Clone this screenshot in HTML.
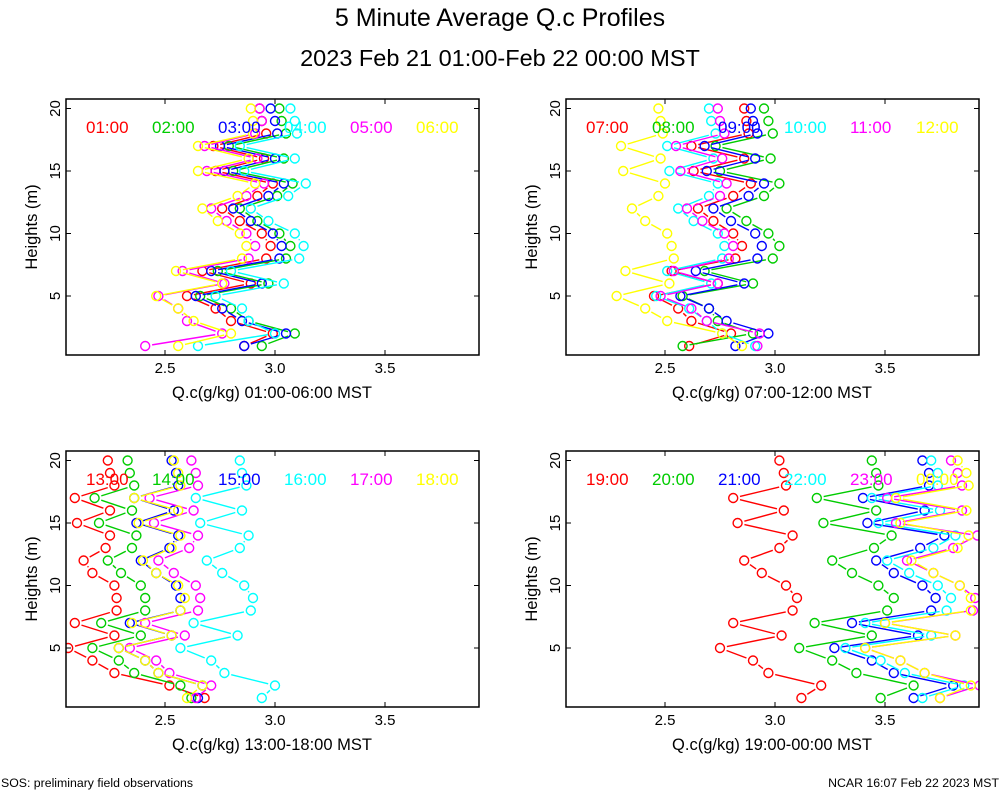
<!DOCTYPE html>
<html><head><meta charset="utf-8"><style>
body{margin:0;background:#fff;}
svg{display:block;font-family:"Liberation Sans",sans-serif;}
</style></head><body>
<svg id="chart" width="1000" height="800" viewBox="0 0 1000 800" xmlns="http://www.w3.org/2000/svg">
<text x="500" y="26" font-size="25" text-anchor="middle">5 Minute Average Q.c Profiles</text>
<text x="500" y="66" font-size="23.5" text-anchor="middle">2023 Feb 21 01:00-Feb 22 00:00 MST</text>
<text x="1" y="787" font-size="12.3">SOS: preliminary field observations</text>
<text x="999" y="787" font-size="12.3" text-anchor="end">NCAR 16:07 Feb 22 2023 MST</text>
</svg>
<script>
const heights = [20,19,18,17,16,15,14,13,12,11,10,9,8,7,6,5,4,3,2,1];
const colors = ["#ff0000","#00cc00","#0000ff","#00ffff","#ff00ff","#ffff00"];
const xTicks = [2.5,3.0,3.5];
const xTickLabels = ["2.5","3.0","3.5"];
const yTicks = [5,10,15,20];
const yTickLabels = ["5","10","15","20"];
const panelLabels = [["01:00","02:00","03:00","04:00","05:00","06:00"],["07:00","08:00","09:00","10:00","11:00","12:00"],["13:00","14:00","15:00","16:00","17:00","18:00"],["19:00","20:00","21:00","22:00","23:00","00:00"]];
const panelTitles = ["Q.c(g/kg) 01:00-06:00 MST","Q.c(g/kg) 07:00-12:00 MST","Q.c(g/kg) 13:00-18:00 MST","Q.c(g/kg) 19:00-00:00 MST"];
const p1s1=[2.93,2.94,2.96,2.72,2.95,2.73,2.99,2.92,2.76,2.84,2.94,2.98,2.96,2.67,2.89,2.60,2.73,2.80,2.99,2.86];
const p1s2=[3.02,3.03,3.05,2.79,3.04,2.81,3.08,3.01,2.84,2.92,3.02,3.07,3.05,2.74,2.97,2.66,2.80,2.88,3.09,2.94];
const p1s3=[2.98,3.00,3.01,2.75,3.00,2.77,3.04,2.97,2.81,2.89,2.99,3.03,3.02,2.71,2.94,2.64,2.76,2.85,3.05,2.86];
const p1s4=[3.07,3.09,3.10,2.84,3.09,2.86,3.14,3.06,2.89,2.97,3.09,3.13,3.11,2.80,3.04,2.73,2.85,2.88,3.00,2.65];
const p1s5=[2.93,2.94,2.91,2.68,2.92,2.69,2.95,2.87,2.71,2.78,2.87,2.91,2.88,2.58,2.77,2.47,2.56,2.60,2.76,2.41];
const p1s6=[2.89,2.90,2.90,2.65,2.88,2.65,2.91,2.83,2.67,2.74,2.84,2.87,2.85,2.55,2.76,2.46,2.56,2.63,2.80,2.56];
const p2s1=[2.86,2.87,2.88,2.62,2.86,2.63,2.89,2.81,2.65,2.72,2.81,2.85,2.82,2.53,2.74,2.45,2.56,2.62,2.80,2.61];
const p2s2=[2.95,2.97,2.99,2.73,2.98,2.75,3.02,2.95,2.78,2.87,2.97,3.02,2.99,2.68,2.90,2.58,2.70,2.74,2.90,2.58];
const p2s3=[2.89,2.90,2.92,2.68,2.91,2.69,2.95,2.88,2.72,2.80,2.91,2.94,2.92,2.64,2.86,2.57,2.70,2.78,2.97,2.82];
const p2s4=[2.70,2.71,2.73,2.51,2.72,2.52,2.74,2.70,2.56,2.63,2.74,2.77,2.76,2.51,2.71,2.46,2.61,2.69,2.76,2.91];
const p2s5=[2.74,2.75,2.77,2.55,2.76,2.57,2.78,2.75,2.60,2.67,2.77,2.81,2.79,2.54,2.74,2.48,2.62,2.69,2.93,2.92];
const p2s6=[2.47,2.48,2.49,2.30,2.48,2.31,2.50,2.47,2.35,2.41,2.51,2.53,2.54,2.32,2.52,2.28,2.41,2.51,2.76,2.85];
const p3s1=[2.24,2.25,2.27,2.09,2.25,2.10,2.25,2.23,2.13,2.17,2.27,2.28,2.28,2.09,2.27,2.06,2.17,2.27,2.52,2.68];
const p3s2=[2.33,2.34,2.36,2.18,2.35,2.20,2.37,2.35,2.24,2.30,2.39,2.41,2.41,2.21,2.39,2.17,2.29,2.36,2.57,2.62];
const p3s3=[2.53,2.55,2.56,2.36,2.54,2.37,2.56,2.52,2.39,2.46,2.55,2.57,2.57,2.34,2.53,2.29,2.41,2.47,2.67,2.65];
const p3s4=[2.84,2.85,2.87,2.64,2.85,2.66,2.88,2.84,2.69,2.76,2.86,2.90,2.89,2.63,2.83,2.57,2.71,2.77,3.00,2.94];
const p3s5=[2.62,2.64,2.65,2.43,2.63,2.45,2.65,2.61,2.47,2.54,2.64,2.66,2.65,2.41,2.59,2.34,2.46,2.52,2.71,2.64];
const p3s6=[2.54,2.56,2.57,2.36,2.56,2.38,2.57,2.53,2.40,2.46,2.56,2.59,2.57,2.35,2.53,2.29,2.41,2.47,2.67,2.60];
const p4s1=[3.02,3.04,3.05,2.81,3.04,2.83,3.08,3.02,2.86,2.94,3.05,3.10,3.08,2.81,3.03,2.75,2.90,2.97,3.21,3.12];
const p4s2=[3.44,3.46,3.47,3.19,3.46,3.22,3.53,3.45,3.26,3.35,3.47,3.54,3.51,3.18,3.44,3.11,3.26,3.37,3.63,3.48];
const p4s3=[3.67,3.70,3.70,3.40,3.68,3.42,3.77,3.66,3.46,3.54,3.67,3.73,3.71,3.35,3.65,3.27,3.44,3.54,3.81,3.63];
const p4s4=[3.71,3.74,3.74,3.44,3.75,3.47,3.82,3.72,3.51,3.61,3.74,3.80,3.78,3.41,3.71,3.32,3.48,3.59,3.86,3.67];
const p4s5=[3.80,3.83,3.85,3.51,3.85,3.55,3.92,3.81,3.60,3.72,3.84,3.91,3.90,3.50,3.82,3.41,3.57,3.68,3.93,3.75];
const p4s6=[3.83,3.87,3.88,3.55,3.87,3.57,3.88,3.83,3.62,3.72,3.84,3.89,3.89,3.50,3.82,3.41,3.57,3.68,3.89,3.75];
const panelSeries=[[p1s1,p1s2,p1s3,p1s4,p1s5,p1s6],[p2s1,p2s2,p2s3,p2s4,p2s5,p2s6],[p3s1,p3s2,p3s3,p3s4,p3s5,p3s6],[p4s1,p4s2,p4s3,p4s4,p4s5,p4s6]];

const NS="http://www.w3.org/2000/svg";
const svg=document.getElementById('chart');
const W=413,H=256,XMIN=2.05,XMAX=2.05+413/220,YMIN=0.28,YMAX=0.28+256/12.5;
const origins=[[66,99],[566,99],[66,451],[566,451]];
function mk(tag,attrs,parent){const e=document.createElementNS(NS,tag);for(const k in attrs)e.setAttribute(k,attrs[k]);(parent||svg).appendChild(e);return e;}
panelSeries.forEach((series,pi)=>{
  const [L,T]=origins[pi];
  const xs=v=>L+(v-XMIN)/(XMAX-XMIN)*W;
  const ys=h=>T+H-(h-YMIN)/(YMAX-YMIN)*H;
  const g=mk('g',{});
  
  
  const clipId='clip'+pi;
  const cp=mk('clipPath',{id:clipId},g);
  mk('rect',{x:L,y:T,width:W,height:H},cp);
  const plot=mk('g',{'clip-path':'url(#'+clipId+')'},g);
  
  
  series.forEach((vals,si)=>{
    const sg=mk('g',{stroke:colors[si],fill:'none','stroke-width':1.4},plot);
    
    
    for(let i=0;i<vals.length-1;i++){
      const x1=xs(vals[i]),y1=ys(heights[i]),x2=xs(vals[i+1]),y2=ys(heights[i+1]);
      const dx=x2-x1,dy=y2-y1,d=Math.hypot(dx,dy),g2=7;
      if(d>2*g2){
        const ln=mk('line',{x1:x1+dx/d*g2,y1:y1+dy/d*g2,x2:x2-dx/d*g2,y2:y2-dy/d*g2},sg);
        
        
      }
    }
    vals.forEach((v,i)=>{
      const c=mk('circle',{cx:xs(v),cy:ys(heights[i]),r:4.5},sg);
      
      
    });
  });
  panelLabels[pi].forEach((lab,si)=>{
    const t=mk('text',{x:L+20+si*66,y:T+34,'font-size':17,fill:colors[si]},g);
    t.textContent=lab;
    
    
  });
  const fr=mk('rect',{x:L,y:T,width:W,height:H,fill:'none',stroke:'#000','stroke-width':1.5},g);
  
  
  xTicks.forEach((v,i)=>{
    const x=xs(v);
    mk('line',{x1:x,x2:x,y1:T,y2:T+5,stroke:'#000'},g);
    mk('line',{x1:x,x2:x,y1:T+H,y2:T+H-5,stroke:'#000'},g);
    const t=mk('text',{x:x,y:T+H+18,'font-size':15,'text-anchor':'middle'},g);
    t.textContent=xTickLabels[i];
    
    
  });
  yTicks.forEach((h,i)=>{
    const y=ys(h);
    mk('line',{x1:L,x2:L+5,y1:y,y2:y,stroke:'#000'},g);
    mk('line',{x1:L+W,x2:L+W-5,y1:y,y2:y,stroke:'#000'},g);
    const t=mk('text',{x:0,y:0,'font-size':15,'text-anchor':'middle',transform:`translate(${L-6},${y}) rotate(-90)`},g);
    t.textContent=yTickLabels[i];
    
    
  });
  const xt=mk('text',{x:L+206,y:T+H+43,'font-size':16.5,'text-anchor':'middle'},g);
  xt.textContent=panelTitles[pi];
  
  
  const yt=mk('text',{x:0,y:0,'font-size':16.5,'text-anchor':'middle',transform:`translate(${L-29},${T+H/2}) rotate(-90)`},g);
  yt.textContent='Heights (m)';
  
  
});
</script>
</body></html>
